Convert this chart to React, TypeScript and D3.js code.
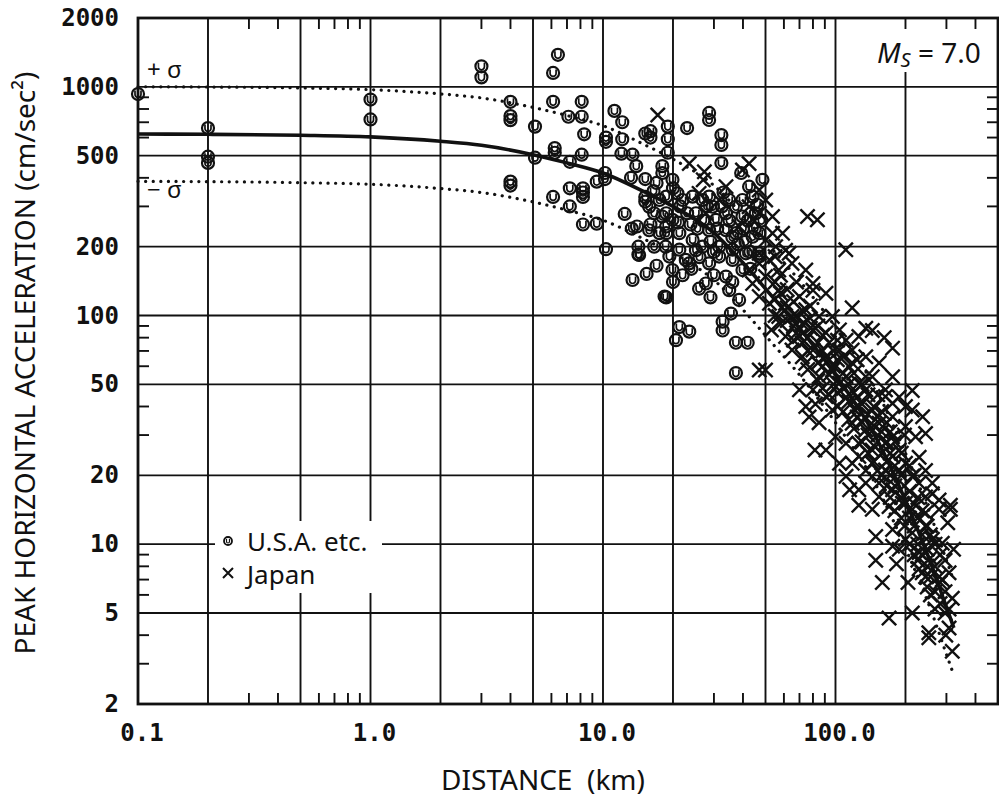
import React from 'react';
import * as d3 from 'd3';

// ---- axes ----
const xTickValues = [0.1, 1, 10, 100];
const xTickLabels = ['0.1', '1.0', '10.0', '100.0'];
const yTickValues = [2, 5, 10, 20, 50, 100, 200, 500, 1000, 2000];
const yTickLabels = ['2', '5', '10', '20', '50', '100', '200', '500', '1000', '2000'];
const xGridValues = [0.2, 0.5, 1, 2, 5, 10, 20, 50, 100, 200];
const yGridValues = [5, 10, 20, 50, 100, 200, 500, 1000];
const xMinorValues = [0.3, 0.4, 0.6, 0.7, 0.8, 0.9, 3, 4, 6, 7, 8, 9, 30, 40, 60, 70, 80, 90, 300, 400];
const yMinorValues = [3, 4, 6, 7, 8, 9, 30, 40, 60, 70, 80, 90, 300, 400, 600, 700, 800, 900];

// ---- attenuation curves (Ms = 7.0) ----
const curveDist = [0.1, 0.2, 0.5, 1, 2, 3, 5, 7, 10, 15, 20, 30, 40, 52, 70, 100, 150, 200, 260, 300, 323];
const meanAcc = [622, 620, 614, 604, 578, 555, 505, 465, 420, 348, 300, 230, 170, 125, 88, 55, 29, 15.5, 8, 5.3, 4.3];
const plusSigmaAcc = [1001, 998, 989, 972, 931, 894, 813, 749, 676, 560, 483, 370, 274, 201, 142, 89, 47, 25, 12.9, 8.5, 6.9];
const minusSigmaAcc = [386, 385, 381, 375, 359, 345, 314, 289, 261, 216, 186, 143, 106, 78, 55, 34, 18, 9.6, 5.0, 3.3, 2.67];

// ---- observations: [distance km, acceleration cm/s2] ----
const usaPoints: [number, number][] = [
  [0.1, 930], [0.2, 660], [0.2, 495], [0.2, 465],
  [1.0, 880], [1.0, 720],
  [3.0, 1230], [3.0, 1100],
  [4.0, 860], [4.0, 745], [4.0, 715], [4.0, 385], [4.0, 370],
  [5.1, 670], [5.1, 490],
  [6.4, 1380], [6.1, 1150], [6.1, 860], [6.2, 540], [6.2, 515], [6.1, 330],
  [7.1, 740], [7.2, 470], [7.2, 360], [7.2, 300],
  [8.1, 860], [8.1, 740], [8.3, 620], [8.1, 505], [8.2, 360], [8.2, 345], [8.2, 330], [8.2, 250],
  [9.4, 385], [9.4, 252],
  [10.3, 600], [10.3, 575], [10.2, 420], [10.2, 395], [10.3, 195],
  [11.2, 785], [12.1, 700], [12.1, 590], [12, 510], [12.4, 278],
  [13.4, 505], [13.9, 450], [13.2, 400], [13.3, 240], [14, 245],
  [15.2, 625], [16, 640], [16, 600], [15.2, 395], [15.2, 330], [15.2, 315],
  [14.2, 200], [14.2, 185],
  [18, 450], [18, 420], [19, 670], [19, 590], [19, 515], [18.6, 200],
  [13.4, 143], [15.4, 152], [14.3, 184], [18.7, 120],
  [23, 660], [28.6, 769], [28.6, 716], [32.3, 615], [32.3, 557], [32.3, 464], [39.3, 420],
  [19.9, 392], [18.7, 331], [20.9, 342], [22, 320], [24.3, 331], [25.1, 280], [26.8, 320], [28.6, 331],
  [29.6, 299], [30.6, 262], [33.8, 280], [34.9, 320], [37.3, 299], [39.8, 320], [39.8, 271], [42.5, 366],
  [44, 331], [45.4, 280], [47, 229], [44, 221], [37.3, 229], [33.8, 236], [31.6, 200], [26.8, 200],
  [24.3, 214], [21.3, 229], [19.9, 262], [18.7, 280], [18.7, 229], [21.3, 194], [36.1, 194], [41.2, 187],
  [47, 187], [28.6, 236], [48.5, 392],
  [19.3, 181], [22.7, 175], [25.1, 193], [28.6, 169], [31.6, 181], [36.1, 175], [39.8, 158], [33.8, 148],
  [27.7, 138], [25.9, 131], [34.9, 129], [38.5, 117], [32.7, 94], [32.7, 86], [35.5, 102], [21.3, 89],
  [23.5, 85], [20.6, 78], [18.4, 121], [37.3, 76], [41.9, 76], [37.3, 56], [47, 181], [23.5, 169], [19.9, 158],
  [15.8, 299], [16.6, 280], [17.5, 320], [18, 271], [15.8, 236], [17.5, 229], [18.7, 245], [16.6, 200],
  [16.5, 350], [17, 380], [20, 360], [21.5, 300], [23, 280], [23.8, 250], [25.5, 240], [27, 260],
  [28, 300], [29, 210], [30, 190], [31, 240], [32.5, 300], [33, 345], [35, 260], [36, 220],
  [38, 205], [40, 240], [41, 210], [42, 260], [43, 190], [45, 240], [46, 305], [48, 260],
  [26, 180], [24, 160], [22, 150], [30, 150], [29, 120], [36, 140], [43, 160], [20, 140],
  [17, 165], [16, 250], [21, 255],
];

const japanPoints: [number, number][] = [
  [17.2, 753], [23.5, 462], [27.3, 425], [27, 392], [42.5, 462], [39.8, 433], [47, 354], [50.1, 320],
  [53.6, 271], [53.6, 229], [47, 280], [42.5, 299], [25.9, 342], [31.6, 320], [33.8, 366], [27.7, 280],
  [38.5, 245], [44, 262], [50.1, 214], [55.3, 200], [47, 187], [75.8, 271], [83.6, 262], [110.7, 194],
  [59.2, 229], [63.2, 187],
  [81.6, 25.8], [104, 22.6], [115, 17.3], [126, 17.3], [111, 19.8], [135, 18.5], [126, 24.2], [144, 22.6],
  [164, 21.1], [176, 24.2], [188, 25.8], [200, 22.6], [214, 19.8], [229, 18.5], [244, 16.1], [261, 16.6],
  [279, 15.6], [312, 14.8], [154, 16.1], [176, 17.3], [200, 15.1], [214, 38.6], [237, 36.1], [244, 30.5],
  [221, 29.5], [200, 32.7], [176, 29.5], [154, 33.8], [144, 38.6], [126, 40], [111, 44], [104, 50.6],
  [135, 47.3], [164, 44.2], [176, 36.1], [135, 31.6], [118, 33.8], [97, 38.6], [91, 44.2], [80, 47.3],
  [74.5, 40], [70, 47.3], [85, 54], [97, 57.8], [111, 54], [126, 50.6], [144, 54], [164, 47.3],
  [176, 41.3], [200, 40], [118, 70.7], [135, 66], [104, 70.7], [91, 66], [80, 70.7], [74.5, 61.8],
  [65, 70.7], [61, 81], [70, 81], [80, 86.5], [91, 84], [104, 86.5], [97, 99], [85, 99],
  [74.5, 106], [65, 99], [57, 99], [53, 86.5], [50, 57.8], [47, 57.8], [61, 113], [70, 121],
  [80, 129], [91, 125], [57, 129], [52, 113], [47, 121], [44, 138], [50, 148], [57, 158],
  [65, 169], [74.5, 158], [80, 138], [55, 181], [61, 193], [52, 175], [47, 169], [42.5, 158],
  [118, 108], [135, 88], [144, 86], [162, 80], [176, 72], [126, 81], [111, 78], [118, 62],
  [154, 62], [135, 54], [176, 54], [188, 44], [214, 47], [85, 34], [111, 27.6], [126, 27.6],
  [144, 25.8], [164, 27.6], [188, 21], [229, 24], [244, 21], [261, 18.5], [154, 18.5], [118, 22.6],
  [135, 21], [100, 29.5], [91, 25.8], [77, 36], [82, 41],
  [126, 14.8], [144, 14.2], [170, 14.6], [194, 15.1], [214, 14.2], [244, 13.7], [279, 14.2], [312, 14.2],
  [149, 10.8], [176, 11.6], [200, 10.5], [214, 11.2], [244, 12], [261, 10.5], [288, 10.1], [322, 9.5],
  [149, 8.5], [183, 8.2], [159, 6.8], [205, 6.8], [170, 4.75], [214, 5.0], [229, 7.8], [244, 7.2],
  [279, 7.2], [318, 5.8], [252, 4.1], [252, 3.9], [298, 4.0], [318, 3.4], [304, 12.4], [288, 7.0],
  [188, 9.5], [229, 9.2], [176, 9.8],
  // dense core of the band
  [55, 140], [55, 118], [55, 100], [58, 150], [58, 125], [58, 92], [62, 108], [62, 95], [62, 130],
  [66, 115], [66, 90], [66, 78], [68, 100], [68, 84], [68, 140], [72, 105], [72, 92], [72, 76], [72, 66],
  [76, 95], [76, 80], [76, 70], [76, 58], [78, 110], [78, 88], [84, 90], [84, 76], [84, 62], [84, 52],
  [88, 82], [88, 70], [88, 60], [88, 48], [94, 76], [94, 64], [94, 55], [94, 45], [98, 70], [98, 60], [98, 50],
  [102, 78], [102, 64], [102, 46], [102, 40], [108, 66], [108, 56], [108, 48], [108, 38],
  [114, 60], [114, 50], [114, 42], [114, 35], [120, 56], [120, 46], [120, 39], [120, 32],
  [124, 64], [124, 44], [124, 36], [130, 50], [130, 41], [130, 34], [130, 28],
  [138, 45], [138, 37], [138, 30], [138, 25], [146, 40], [146, 33], [146, 27], [146, 23],
  [152, 45], [152, 36], [152, 30], [152, 21], [158, 38], [158, 31], [158, 25], [158, 20],
  [166, 34], [166, 28], [166, 23], [166, 18], [172, 31], [172, 25], [172, 20], [172, 16],
  [180, 28], [180, 22], [180, 18], [180, 14], [192, 25], [192, 20], [192, 16], [192, 13],
  [198, 30], [198, 18], [198, 12], [208, 22], [208, 17], [208, 13], [208, 10],
  [218, 20], [218, 15], [218, 12], [218, 9], [226, 16], [226, 13], [226, 10], [226, 8.5],
  [236, 14], [236, 11], [236, 9], [236, 7.5], [248, 12], [248, 9.5], [248, 8], [248, 6.5],
  [256, 11], [256, 8.7], [256, 7.2], [256, 6], [268, 10], [268, 8], [268, 6.2], [268, 5.2],
  [282, 9], [282, 6.8], [282, 5.5], [296, 8.5], [296, 6.2], [296, 5], [308, 7.5], [308, 5.2], [308, 4.3],
];

const INK = '#111';

export default function App() {
  const x = d3.scaleLog().domain([0.1, 500]).range([138, 998]);
  const y = d3.scaleLog().domain([2, 2000]).range([704, 18]);
  const [x0, x1] = x.range();
  const [y0, y1] = y.range(); // y0 bottom, y1 top

  const line = d3
    .line<[number, number]>()
    .x((d) => x(d[0]))
    .y((d) => y(d[1]))
    .curve(d3.curveMonotoneX);

  const meanPath = line(curveDist.map((d, i) => [d, meanAcc[i]] as [number, number])) || '';
  const plusPath = line(curveDist.map((d, i) => [d, plusSigmaAcc[i]] as [number, number])) || '';
  const minusPath = line(curveDist.map((d, i) => [d, minusSigmaAcc[i]] as [number, number])) || '';

  const tickLen = 11;
  const monoFont = '"DejaVu Sans Mono", "Liberation Mono", monospace';
  const sansFont = '"Noto Sans", "Open Sans", "DejaVu Sans", sans-serif';

  return (
    <div style={{ position: 'absolute', left: 0, top: 0, width: 999, height: 800, background: '#fff' }}>
      <svg width={999} height={800} viewBox="0 0 999 800" style={{ display: 'block' }}>
        <rect x={0} y={0} width={999} height={800} fill="#fff" />

        {/* grid */}
        <g stroke={INK} strokeWidth={1.9}>
          {xGridValues.map((v) => (
            <line key={'xg' + v} x1={x(v)} x2={x(v)} y1={y1} y2={y0} />
          ))}
          {yGridValues.map((v) => (
            <line key={'yg' + v} x1={x0} x2={x1} y1={y(v)} y2={y(v)} />
          ))}
        </g>

        {/* minor ticks on all four sides */}
        <g stroke={INK} strokeWidth={1.9}>
          {xMinorValues.map((v) => (
            <g key={'xm' + v}>
              <line x1={x(v)} x2={x(v)} y1={y0} y2={y0 - tickLen} />
              <line x1={x(v)} x2={x(v)} y1={y1} y2={y1 + tickLen} />
            </g>
          ))}
          {yMinorValues.map((v) => (
            <g key={'ym' + v}>
              <line x1={x0} x2={x0 + tickLen} y1={y(v)} y2={y(v)} />
              <line x1={x1} x2={x1 - tickLen} y1={y(v)} y2={y(v)} />
            </g>
          ))}
        </g>

        {/* label backgrounds that interrupt the grid */}
        <rect x={215} y={521} width={167} height={72} fill="#fff" />
        <rect x={868} y={29} width={124} height={43} fill="#fff" />

        {/* frame */}
        <rect x={x0} y={y1} width={x1 - x0} height={y0 - y1} fill="none" stroke={INK} strokeWidth={2.8} />

        {/* curves */}
        <path d={meanPath} fill="none" stroke={INK} strokeWidth={3.6} strokeLinejoin="round" />
        <path d={plusPath} fill="none" stroke={INK} strokeWidth={3.2} strokeDasharray="0.1 7.5" strokeLinecap="round" />
        <path d={minusPath} fill="none" stroke={INK} strokeWidth={3.2} strokeDasharray="0.1 7.5" strokeLinecap="round" />

        {/* U.S.A. etc. points */}
        <g fill="none" stroke={INK} strokeWidth={2.2}>
          {usaPoints.map((p, i) => (
            <g key={'u' + i} transform={`translate(${x(p[0])},${y(p[1])})`}>
              <circle r={6} />
              <path d="M -3 -3.5 L -3 0.5 A 3 3 0 0 0 3 0.5 L 3 -3.5" strokeWidth={1.7} />
            </g>
          ))}
        </g>

        {/* Japan points */}
        <g stroke={INK} strokeWidth={2.4} strokeLinecap="square">
          {japanPoints.map((p, i) => {
            const cx = x(p[0]);
            const cy = y(p[1]);
            const s = 6.3;
            return (
              <path key={'j' + i} d={`M ${cx - s} ${cy - s} L ${cx + s} ${cy + s} M ${cx - s} ${cy + s} L ${cx + s} ${cy - s}`} />
            );
          })}
        </g>

        {/* tick labels */}
        <g fontFamily={monoFont} fontWeight="bold" fontSize={24} fill={INK}>
          {yTickValues.map((v, i) => (
            <text key={'yl' + v} x={119} y={y(v)} textAnchor="end" dominantBaseline="central">
              {yTickLabels[i]}
            </text>
          ))}
          {xTickValues.map((v, i) => (
            <text key={'xl' + v} x={x(v) + 4} y={733} textAnchor="middle" dominantBaseline="central">
              {xTickLabels[i]}
            </text>
          ))}
        </g>

        {/* axis titles */}
        <text x={543} y={790} textAnchor="middle" fontFamily={sansFont} fontSize={28} fill={INK} style={{ whiteSpace: 'pre' }}>
          {'DISTANCE  (km)'}
        </text>
        <text
          transform="translate(35,363) rotate(-90)"
          textAnchor="middle"
          fontFamily={sansFont}
          fontSize={28}
          fill={INK}
        >
          PEAK HORIZONTAL ACCELERATION (cm/sec²)
        </text>

        {/* sigma labels */}
        <text x={147} y={78} fontFamily={sansFont} fontSize={24} fill={INK} style={{ whiteSpace: 'pre' }}>
          {'+ σ'}
        </text>
        <text x={147} y={198} fontFamily={sansFont} fontSize={24} fill={INK} style={{ whiteSpace: 'pre' }}>
          {'− σ'}
        </text>

        {/* magnitude label */}
        <text x={877} y={63} fontFamily={sansFont} fontSize={28} fill={INK}>
          <tspan fontStyle="italic">M</tspan>
          <tspan fontStyle="italic" fontSize={20} dy={4}>S</tspan>
          <tspan dy={-4}>{' = 7.0'}</tspan>
        </text>

        {/* legend */}
        <g fill="none" stroke={INK}>
          <circle cx={228} cy={541} r={4} strokeWidth={1.8} />
          <path d="M 226.5 539 L 226.5 541.5 A 1.5 1.5 0 0 0 229.5 541.5 L 229.5 539" strokeWidth={1.2} />
          <path d="M 223 568 L 233 578 M 223 578 L 233 568" strokeWidth={2} />
        </g>
        <text x={247} y={551} fontFamily={sansFont} fontSize={26} fill={INK}>U.S.A. etc.</text>
        <text x={247} y={584} fontFamily={sansFont} fontSize={26} fill={INK}>Japan</text>
      </svg>
    </div>
  );
}
